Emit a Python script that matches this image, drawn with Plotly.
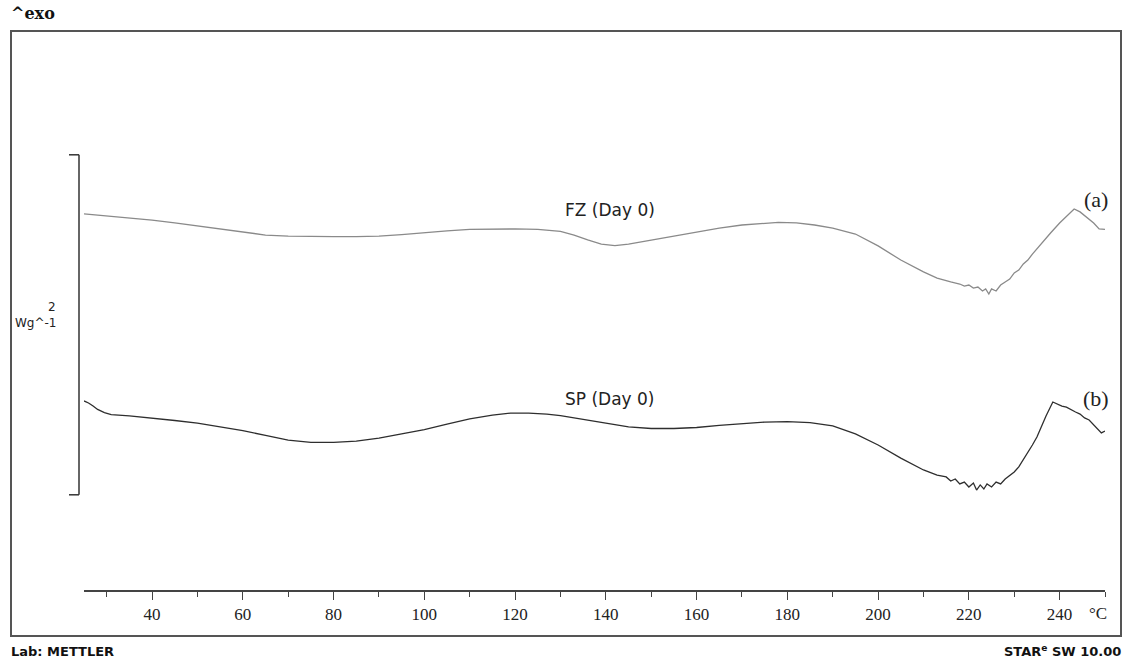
import plotly.graph_objects as go

# ---- data (temperature in °C, heat flow in W/g, arbitrary offset) ----
fz_temp = [25, 27.5, 30, 35, 40, 45, 50, 55, 60, 65, 70, 75, 80, 85, 90, 95, 100, 105, 110, 115,
           120, 125, 130, 133, 136, 139, 142, 145, 150, 155, 160, 165, 170, 175, 178, 182, 186, 190,
           195, 200, 205, 210, 213, 216, 218, 219, 220, 221, 222, 223, 223.7, 224.4, 225, 226, 227,
           228, 229, 230, 231, 232, 233, 234, 236, 238, 240, 242, 243.2, 244.5, 246, 247.5, 248.7, 250]
fz_flow = [2.212, 2.206, 2.200, 2.188, 2.176, 2.159, 2.141, 2.124, 2.103, 2.088, 2.082, 2.079, 2.079,
           2.079, 2.082, 2.091, 2.103, 2.112, 2.121, 2.124, 2.124, 2.121, 2.109, 2.088, 2.059, 2.035,
           2.026, 2.035, 2.059, 2.085, 2.109, 2.129, 2.147, 2.159, 2.162, 2.159, 2.147, 2.129, 2.094,
           2.024, 1.941, 1.871, 1.835, 1.812, 1.800, 1.788, 1.794, 1.776, 1.782, 1.759, 1.771, 1.741,
           1.771, 1.759, 1.794, 1.812, 1.829, 1.865, 1.882, 1.918, 1.941, 1.976, 2.041, 2.100, 2.159,
           2.212, 2.241, 2.224, 2.194, 2.159, 2.124, 2.121]

sp_temp = [25, 26, 27, 28, 29.5, 31, 35, 40, 45, 50, 55, 60, 65, 70, 75, 80, 85, 90, 95, 100, 105,
           110, 115, 119, 123, 127, 130, 135, 140, 145, 150, 155, 160, 165, 170, 175, 180, 185, 190,
           195, 200, 205, 210, 213, 215, 216, 217, 218, 219, 220, 221, 221.7, 222.5, 223.3, 224, 225,
           226, 227, 228, 229, 230, 231, 232, 233, 234, 235, 236, 237, 238.5, 239.5, 240.5, 241.5,
           242.5, 243.5, 244.5, 245.5, 246.5, 247.5, 248.5, 249.2, 250]
sp_flow = [1.112, 1.100, 1.082, 1.062, 1.044, 1.032, 1.024, 1.012, 0.997, 0.982, 0.962, 0.938, 0.909,
           0.882, 0.868, 0.868, 0.876, 0.894, 0.918, 0.944, 0.976, 1.006, 1.029, 1.041, 1.041, 1.035,
           1.026, 1.006, 0.982, 0.959, 0.950, 0.950, 0.956, 0.968, 0.979, 0.988, 0.991, 0.985, 0.965,
           0.918, 0.853, 0.776, 0.706, 0.676, 0.665, 0.641, 0.653, 0.624, 0.635, 0.606, 0.629, 0.588,
           0.618, 0.594, 0.624, 0.606, 0.635, 0.624, 0.653, 0.671, 0.694, 0.724, 0.765, 0.806, 0.853,
           0.900, 0.965, 1.024, 1.106, 1.094, 1.082, 1.076, 1.059, 1.047, 1.035, 1.012, 1.000, 0.971,
           0.947, 0.924, 0.935]

tick_vals = [40, 60, 80, 100, 120, 140, 160, 180, 200, 220, 240]
tick_text = [str(v) for v in tick_vals]
series_labels = ["FZ (Day 0)", "SP (Day 0)"]
curve_tags = ["(a)", "(b)"]
scale_bar = [0.56, 2.56]  # 2 W/g scale bar

W, H = 1126, 662
L, R, T, B = 84, 21, 30, 72
pw, ph = W - L - R, H - T - B

def px(x):  # pixel x -> paper x
    return (x - L) / pw

def py(y):  # pixel y -> paper y
    return (H - B - y) / ph

fig = go.Figure()
fig.add_trace(go.Scatter(x=fz_temp, y=fz_flow, mode="lines",
                         line=dict(color="#8a8a8a", width=1.3), hoverinfo="skip"))
fig.add_trace(go.Scatter(x=sp_temp, y=sp_flow, mode="lines",
                         line=dict(color="#2e2e2e", width=1.3), hoverinfo="skip"))

def ann(x, y, text, xref="paper", yref="paper", xanchor="center", family="DejaVu Sans",
        size=15, color="#222"):
    return dict(x=x, y=y, xref=xref, yref=yref, text=text, showarrow=False,
                xanchor=xanchor, yanchor="middle",
                font=dict(family=family, size=size, color=color))

annotations = [
    ann(141, 2.233, series_labels[0], xref="x", yref="y", size=17),
    ann(141, 1.123, series_labels[1], xref="x", yref="y", size=17),
    ann(px(1096), 2.30, curve_tags[0], yref="y", family="Liberation Serif", size=22),
    ann(px(1096), 1.125, curve_tags[1], yref="y", family="Liberation Serif", size=22),
    ann(px(58), py(307), "2", xanchor="right", size=12),
    ann(px(59), py(323), "Wg^-1", xanchor="right", size=12),
    ann(px(1098), py(613), "°C", family="Liberation Serif", size=17),
    ann(px(9), py(13), "<b>^exo</b>", xanchor="left", family="DejaVu Serif", size=16, color="#111"),
    ann(px(9), py(651), "<b>Lab: METTLER</b>", xanchor="left", size=13, color="#111"),
    ann(px(1123), py(651), "<b>STAR<sup>e</sup> SW 10.00</b>", xanchor="right", size=13, color="#111"),
]

shapes = [
    # outer frame
    dict(type="rect", xref="paper", yref="paper", x0=px(11), x1=px(1121), y0=py(636), y1=py(31),
         line=dict(color="#555", width=2)),
    # scale bar bracket
    dict(type="line", xref="paper", yref="y", x0=px(79), x1=px(79), y0=scale_bar[0], y1=scale_bar[1],
         line=dict(color="#333", width=1.5)),
    dict(type="line", xref="paper", yref="y", x0=px(69), x1=px(79), y0=scale_bar[1], y1=scale_bar[1],
         line=dict(color="#333", width=1.5)),
    dict(type="line", xref="paper", yref="y", x0=px(69), x1=px(79), y0=scale_bar[0], y1=scale_bar[0],
         line=dict(color="#333", width=1.5)),
]

fig.update_layout(
    width=W, height=H,
    margin=dict(l=L, r=R, t=T, b=B, pad=0),
    paper_bgcolor="white", plot_bgcolor="white",
    showlegend=False,
    annotations=annotations, shapes=shapes,
    xaxis=dict(range=[25, 250], showgrid=False, zeroline=False,
               showline=True, linecolor="#444", linewidth=1.5,
               tickmode="array", tickvals=tick_vals, ticktext=tick_text,
               ticks="outside", ticklen=8, tickwidth=1.2, tickcolor="#444",
               ticklabelstandoff=0,
               minor=dict(dtick=10, tick0=0, ticks="outside", ticklen=5, tickwidth=1, tickcolor="#444"),
               tickfont=dict(family="Liberation Serif", size=17, color="#222")),
    yaxis=dict(range=[0, ph / 170.0], visible=False, showgrid=False, zeroline=False),
)

fig.write_html("out.html", config={"displayModeBar": False},
               post_script="document.body.style.margin='0';document.body.style.overflow='hidden';")
